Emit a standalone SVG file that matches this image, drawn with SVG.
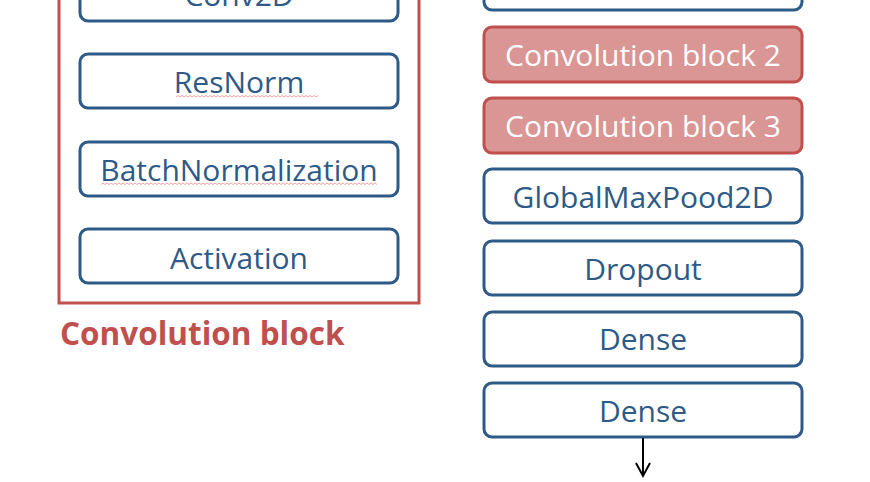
<svg xmlns="http://www.w3.org/2000/svg" width="870" height="482" viewBox="0 0 870 482">
<defs>
<style>
.b rect{fill:#fff;stroke:#2E5A87;stroke-width:3}
.r rect{fill:#D99694;stroke:#C0504D;stroke-width:3}
.b text{fill:#2E5A87}
.r text{fill:#fff}
text{font-family:"Open Sans","Noto Sans",sans-serif;font-size:30px;text-anchor:middle}
.sq{fill:none;stroke:#F3A3A3;stroke-width:1}
</style>
</defs>
<rect width="870" height="482" fill="#fff"/>
<g id="container">
<rect x="59" y="-60" width="360" height="363" fill="none" stroke="#C0504D" stroke-width="3"/>
<text x="60" y="345" style="font-weight:bold;font-size:31.5px;text-anchor:start;fill:#C0504D">Convolution block</text>
</g>
<g id="conv2d" class="b"><rect x="80" y="-33" width="318" height="54" rx="8"/><text x="239" y="6">Conv2D</text></g>
<g id="resnorm" class="b"><rect x="80" y="54" width="318" height="54" rx="8"/><text x="239" y="93">ResNorm</text><path class="sq" d="M176,97 l2,-1.5 l2,1.5 l2,-1.5 l2,1.5 l2,-1.5 l2,1.5 l2,-1.5 l2,1.5 l2,-1.5 l2,1.5 l2,-1.5 l2,1.5 l2,-1.5 l2,1.5 l2,-1.5 l2,1.5 l2,-1.5 l2,1.5 l2,-1.5 l2,1.5 l2,-1.5 l2,1.5 l2,-1.5 l2,1.5 l2,-1.5 l2,1.5 l2,-1.5 l2,1.5 l2,-1.5 l2,1.5 l2,-1.5 l2,1.5 l2,-1.5 l2,1.5 l2,-1.5 l2,1.5 l2,-1.5 l2,1.5 l2,-1.5 l2,1.5 l2,-1.5 l2,1.5 l2,-1.5 l2,1.5 l2,-1.5 l2,1.5 l2,-1.5 l2,1.5 l2,-1.5 l2,1.5 l2,-1.5 l2,1.5 l2,-1.5 l2,1.5 l2,-1.5 l2,1.5 l2,-1.5 l2,1.5 l2,-1.5 l2,1.5 l2,-1.5 l2,1.5 l2,-1.5 l2,1.5 l2,-1.5 l2,1.5 l2,-1.5 l2,1.5 l2,-1.5 l2,1.5 l2,-1.5"/></g>
<g id="batchnorm" class="b"><rect x="80" y="142" width="318" height="54" rx="8"/><text x="239" y="181">BatchNormalization</text><path class="sq" d="M101,184.5 l2,-1.5 l2,1.5 l2,-1.5 l2,1.5 l2,-1.5 l2,1.5 l2,-1.5 l2,1.5 l2,-1.5 l2,1.5 l2,-1.5 l2,1.5 l2,-1.5 l2,1.5 l2,-1.5 l2,1.5 l2,-1.5 l2,1.5 l2,-1.5 l2,1.5 l2,-1.5 l2,1.5 l2,-1.5 l2,1.5 l2,-1.5 l2,1.5 l2,-1.5 l2,1.5 l2,-1.5 l2,1.5 l2,-1.5 l2,1.5 l2,-1.5 l2,1.5 l2,-1.5 l2,1.5 l2,-1.5 l2,1.5 l2,-1.5 l2,1.5 l2,-1.5 l2,1.5 l2,-1.5 l2,1.5 l2,-1.5 l2,1.5 l2,-1.5 l2,1.5 l2,-1.5 l2,1.5 l2,-1.5 l2,1.5 l2,-1.5 l2,1.5 l2,-1.5 l2,1.5 l2,-1.5 l2,1.5 l2,-1.5 l2,1.5 l2,-1.5 l2,1.5 l2,-1.5 l2,1.5 l2,-1.5 l2,1.5 l2,-1.5 l2,1.5 l2,-1.5 l2,1.5 l2,-1.5 l2,1.5 l2,-1.5 l2,1.5 l2,-1.5 l2,1.5 l2,-1.5 l2,1.5 l2,-1.5 l2,1.5 l2,-1.5 l2,1.5 l2,-1.5 l2,1.5 l2,-1.5 l2,1.5 l2,-1.5 l2,1.5 l2,-1.5 l2,1.5 l2,-1.5 l2,1.5 l2,-1.5 l2,1.5 l2,-1.5 l2,1.5 l2,-1.5 l2,1.5 l2,-1.5 l2,1.5 l2,-1.5 l2,1.5 l2,-1.5 l2,1.5 l2,-1.5 l2,1.5 l2,-1.5 l2,1.5 l2,-1.5 l2,1.5 l2,-1.5 l2,1.5 l2,-1.5 l2,1.5 l2,-1.5 l2,1.5 l2,-1.5 l2,1.5 l2,-1.5 l2,1.5 l2,-1.5 l2,1.5 l2,-1.5 l2,1.5 l2,-1.5 l2,1.5 l2,-1.5 l2,1.5 l2,-1.5 l2,1.5 l2,-1.5 l2,1.5 l2,-1.5 l2,1.5 l2,-1.5 l2,1.5 l2,-1.5 l2,1.5"/></g>
<g id="activation" class="b"><rect x="80" y="229" width="318" height="54" rx="8"/><text x="239" y="269">Activation</text></g>
<g id="top-right" class="b"><rect x="484" y="-45" width="318" height="55" rx="8"/></g>
<g id="convblock2" class="r"><rect x="484" y="27" width="318" height="55" rx="8"/><text x="643" y="66">Convolution block 2</text></g>
<g id="convblock3" class="r"><rect x="484" y="98" width="318" height="55" rx="8"/><text x="643" y="137">Convolution block 3</text></g>
<g id="globalmax" class="b"><rect x="484" y="169" width="318" height="54" rx="8"/><text x="643" y="208">GlobalMaxPood2D</text></g>
<g id="dropout" class="b"><rect x="484" y="241" width="318" height="54" rx="8"/><text x="643" y="280">Dropout</text></g>
<g id="dense1" class="b"><rect x="484" y="312" width="318" height="54" rx="8"/><text x="643" y="350">Dense</text></g>
<g id="dense2" class="b"><rect x="484" y="383" width="318" height="54" rx="8"/><text x="643" y="422">Dense</text></g>
<g id="connectors" fill="none" stroke="#000" stroke-width="2">
<line x1="643" y1="438" x2="643" y2="476"/>
<path d="M636,463 L643,476 L650,463"/>
</g>
</svg>
